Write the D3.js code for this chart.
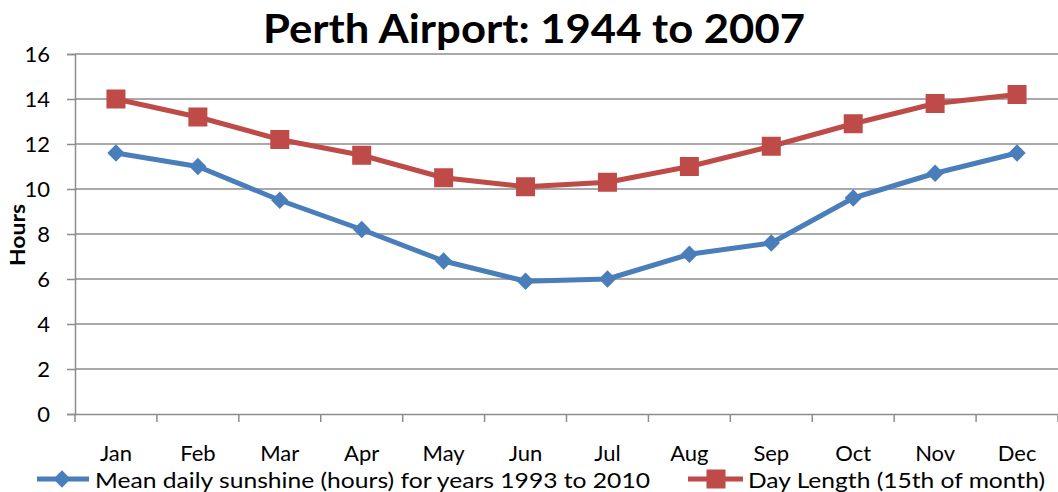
<!DOCTYPE html>
<html>
<head>
<meta charset="utf-8">
<script src="https://cdn.jsdelivr.net/npm/d3@7"></script>
<style>
  body { margin: 0; background: #fff; }
  text { font-family: Lato, "Open Sans", sans-serif; fill: #000; }
</style>
</head>
<body>
<script>
'use strict';

// chart data
const months = ["Jan", "Feb", "Mar", "Apr", "May", "Jun", "Jul", "Aug", "Sep", "Oct", "Nov", "Dec"];
const sunshine = [11.6, 11.0, 9.5, 8.2, 6.8, 5.9, 6.0, 7.1, 7.6, 9.6, 10.7, 11.6];
const dayLength = [14.0, 13.2, 12.2, 11.5, 10.5, 10.1, 10.3, 11.0, 11.9, 12.9, 13.8, 14.2];
const yTicks = [0, 2, 4, 6, 8, 10, 12, 14, 16];
const sunshineLabel = "Mean daily sunshine (hours) for years 1993 to 2010";
const dayLabel = "Day Length (15th of month)";

let width = 1058;
let height = 492;

let svg = d3.select('body').append('svg')
  .attr('width', width)
  .attr('height', height);

let xScale = d3.scaleBand().domain(months).range([75, 1058]);
let yScale = d3.scaleLinear().domain([0, 16]).range([414, 54]);

// horizontal gridlines
svg.append('g')
  .selectAll('line')
  .data(yTicks.filter(d => d > 0))
  .enter().append('line')
    .attr('x1', 75).attr('x2', 1058)
    .attr('y1', d => yScale(d)).attr('y2', d => yScale(d))
    .attr('stroke', '#8c8c8c').attr('stroke-width', 1.5);

// y axis
let yAxis = svg.append('g')
  .attr('transform', 'translate(75,0)')
  .call(d3.axisLeft(yScale).tickValues(yTicks).tickSize(8).tickPadding(10));
yAxis.select('.domain').attr('stroke', '#8c8c8c').attr('stroke-width', 1.5);
yAxis.selectAll('.tick line').attr('stroke', '#8c8c8c').attr('stroke-width', 1.5);
yAxis.selectAll('text')
  .attr('x', -25)
  .attr('dy', '0.36em')
  .style('font-size', '22px')
  .style('font-family', 'Lato, sans-serif')
  .attr('fill', '#000');

// x axis
let xAxis = svg.append('g')
  .attr('transform', 'translate(0,414)')
  .call(d3.axisBottom(xScale).tickSize(0).tickPadding(0));
xAxis.select('.domain').attr('stroke', '#8c8c8c').attr('stroke-width', 1.5);
xAxis.selectAll('text')
  .attr('y', 47)
  .attr('dy', 0)
  .style('font-size', '22px')
  .style('font-family', 'Lato, sans-serif')
  .attr('fill', '#000');
// category boundary ticks
svg.append('g')
  .selectAll('line')
  .data(months.concat(['end']))
  .enter().append('line')
    .attr('x1', (d, i) => i < months.length ? xScale(d) : xScale.range()[1])
    .attr('x2', (d, i) => i < months.length ? xScale(d) : xScale.range()[1])
    .attr('y1', 414).attr('y2', 422)
    .attr('stroke', '#8c8c8c').attr('stroke-width', 1.5);

let cx = d => xScale(d) + xScale.bandwidth() / 2;

let line = d3.line()
  .x((d, i) => cx(months[i]))
  .y(d => yScale(d));

// sunshine series
svg.append('path')
  .datum(sunshine)
  .attr('d', line)
  .attr('fill', 'none')
  .attr('stroke', '#4a7ebb')
  .attr('stroke-width', 5)
  .attr('stroke-linejoin', 'round');

let diamond = d3.symbol().type(d3.symbolSquare).size(150);
svg.append('g')
  .selectAll('path')
  .data(sunshine)
  .enter().append('path')
    .attr('d', diamond)
    .attr('transform', (d, i) => 'translate(' + cx(months[i]) + ',' + yScale(d) + ') rotate(45)')
    .attr('fill', '#4a7ebb');

// day length series
svg.append('path')
  .datum(dayLength)
  .attr('d', line)
  .attr('fill', 'none')
  .attr('stroke', '#be4b48')
  .attr('stroke-width', 5)
  .attr('stroke-linejoin', 'round');

svg.append('g')
  .selectAll('rect')
  .data(dayLength)
  .enter().append('rect')
    .attr('x', (d, i) => cx(months[i]) - 9.5)
    .attr('y', d => yScale(d) - 9.5)
    .attr('width', 19).attr('height', 19)
    .attr('fill', '#be4b48');

// title
svg.append('text')
  .attr('x', 534)
  .attr('y', 43)
  .attr('text-anchor', 'middle')
  .style('font-size', '41px')
  .style('font-weight', 'bold')
  .attr('textLength', 542)
  .attr('lengthAdjust', 'spacingAndGlyphs')
  .text('Perth Airport: 1944 to 2007');

// y axis label
svg.append('text')
  .attr('transform', 'translate(25,235) rotate(-90)')
  .attr('text-anchor', 'middle')
  .style('font-size', '21px')
  .style('font-weight', 'bold')
  .attr('textLength', 62)
  .attr('lengthAdjust', 'spacingAndGlyphs')
  .text('Hours');

// legend
let legend = svg.append('g');
legend.append('line')
  .attr('x1', 37).attr('x2', 89).attr('y1', 479).attr('y2', 479)
  .attr('stroke', '#4a7ebb').attr('stroke-width', 5);
legend.append('path')
  .attr('d', diamond)
  .attr('transform', 'translate(62,479) rotate(45)')
  .attr('fill', '#4a7ebb');
legend.append('text')
  .attr('x', 95).attr('y', 488)
  .style('font-size', '22px')
  .attr('textLength', 555)
  .attr('lengthAdjust', 'spacingAndGlyphs')
  .text(sunshineLabel);

legend.append('line')
  .attr('x1', 688).attr('x2', 743).attr('y1', 479).attr('y2', 479)
  .attr('stroke', '#be4b48').attr('stroke-width', 5);
legend.append('rect')
  .attr('x', 706.5).attr('y', 469.5).attr('width', 19).attr('height', 19)
  .attr('fill', '#be4b48');
legend.append('text')
  .attr('x', 748).attr('y', 488)
  .style('font-size', '22px')
  .attr('textLength', 297)
  .attr('lengthAdjust', 'spacingAndGlyphs')
  .text(dayLabel);
</script>
</body>
</html>
